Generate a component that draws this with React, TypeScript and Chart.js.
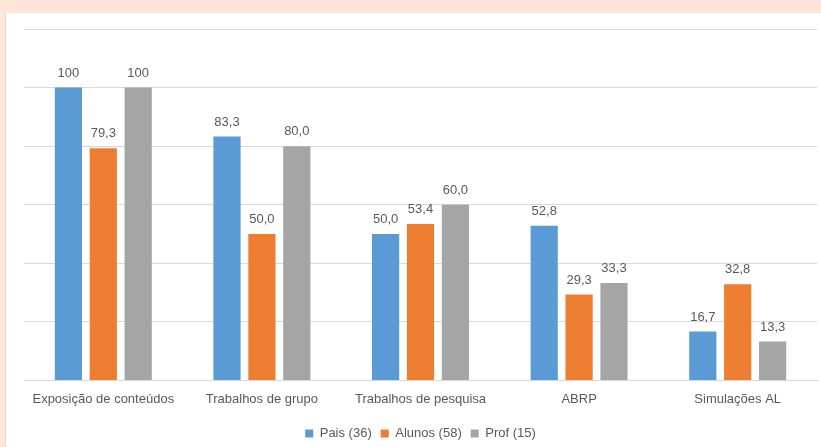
import React, { useEffect, useRef } from "react";
import { Chart, registerables } from "chart.js";

Chart.register(...registerables);

const categories = [
  "Exposição de conteúdos",
  "Trabalhos de grupo",
  "Trabalhos de pesquisa",
  "ABRP",
  "Simulações AL",
];
const pais = [100, 83.3, 50.0, 52.8, 16.7];
const alunos = [79.3, 50.0, 53.4, 29.3, 32.8];
const prof = [100, 80.0, 60.0, 33.3, 13.3];
const seriesNames = ["Pais (36)", "Alunos (58)", "Prof (15)"];
const seriesColors = ["#5B9BD5", "#ED7D31", "#A5A5A5"];

const FONT = "'Liberation Sans', sans-serif";

const fmt = (v: number) => (v === 100 ? "100" : v.toFixed(1).replace(".", ","));

const labelPlugin = {
  id: "barLabels",
  afterDatasetsDraw(chart: any) {
    const ctx = chart.ctx;
    ctx.save();
    ctx.font = `13px ${FONT}`;
    ctx.fillStyle = "#595959";
    ctx.textAlign = "center";
    ctx.textBaseline = "bottom";
    chart.data.datasets.forEach((ds: any, di: number) => {
      const meta = chart.getDatasetMeta(di);
      meta.data.forEach((el: any, i: number) => {
        ctx.fillText(fmt(ds.data[i]), el.x, el.y - 8);
      });
    });
    ctx.restore();
  },
};

export default function App() {
  const ref = useRef<HTMLCanvasElement>(null);
  useEffect(() => {
    const data = [pais, alunos, prof];
    const chart = new Chart(ref.current!, {
      type: "bar",
      data: {
        labels: categories,
        datasets: seriesNames.map((n, i) => ({
          label: n,
          data: data[i],
          backgroundColor: seriesColors[i],
          borderWidth: 0,
          categoryPercentage: 0.66,
          barPercentage: 0.78,
        })),
      },
      options: {
        animation: false,
        responsive: false,
        maintainAspectRatio: false,
        layout: { padding: { left: 18, right: 4, top: 16, bottom: 0 } },
        scales: {
          y: {
            min: 0,
            max: 120,
            ticks: { display: false, stepSize: 20 },
            grid: { color: "#D9D9D9", lineWidth: 1, drawTicks: false },
            border: { display: false },
          },
          x: {
            grid: { display: false, drawTicks: false },
            border: { color: "#D9D9D9", width: 1 },
            ticks: {
              color: "#595959",
              font: { family: FONT, size: 13 },
              padding: 11,
              maxRotation: 0,
              autoSkip: false,
            },
          },
        },
        plugins: {
          legend: {
            position: "bottom",
            labels: {
              boxWidth: 8,
              boxHeight: 8,
              color: "#595959",
              font: { family: FONT, size: 13 },
              padding: 9,
            },
          },
          tooltip: { enabled: false },
        },
      },
      plugins: [labelPlugin],
    });
    return () => chart.destroy();
  }, []);
  return (
    <div
      style={{
        position: "fixed",
        left: 0,
        top: 0,
        width: 821,
        height: 447,
        background: "#FFE5D9",
        overflow: "hidden",
      }}
    >
      <div
        style={{
          position: "absolute",
          left: 5,
          top: 13,
          width: 816,
          height: 434,
          background: "#FFFFFF",
          borderLeft: "1px solid #D9D9D9",
          boxSizing: "border-box",
          overflow: "hidden",
        }}
      >
        <canvas ref={ref} width={815} height={437} style={{ display: "block" }} />
      </div>
    </div>
  );
}
